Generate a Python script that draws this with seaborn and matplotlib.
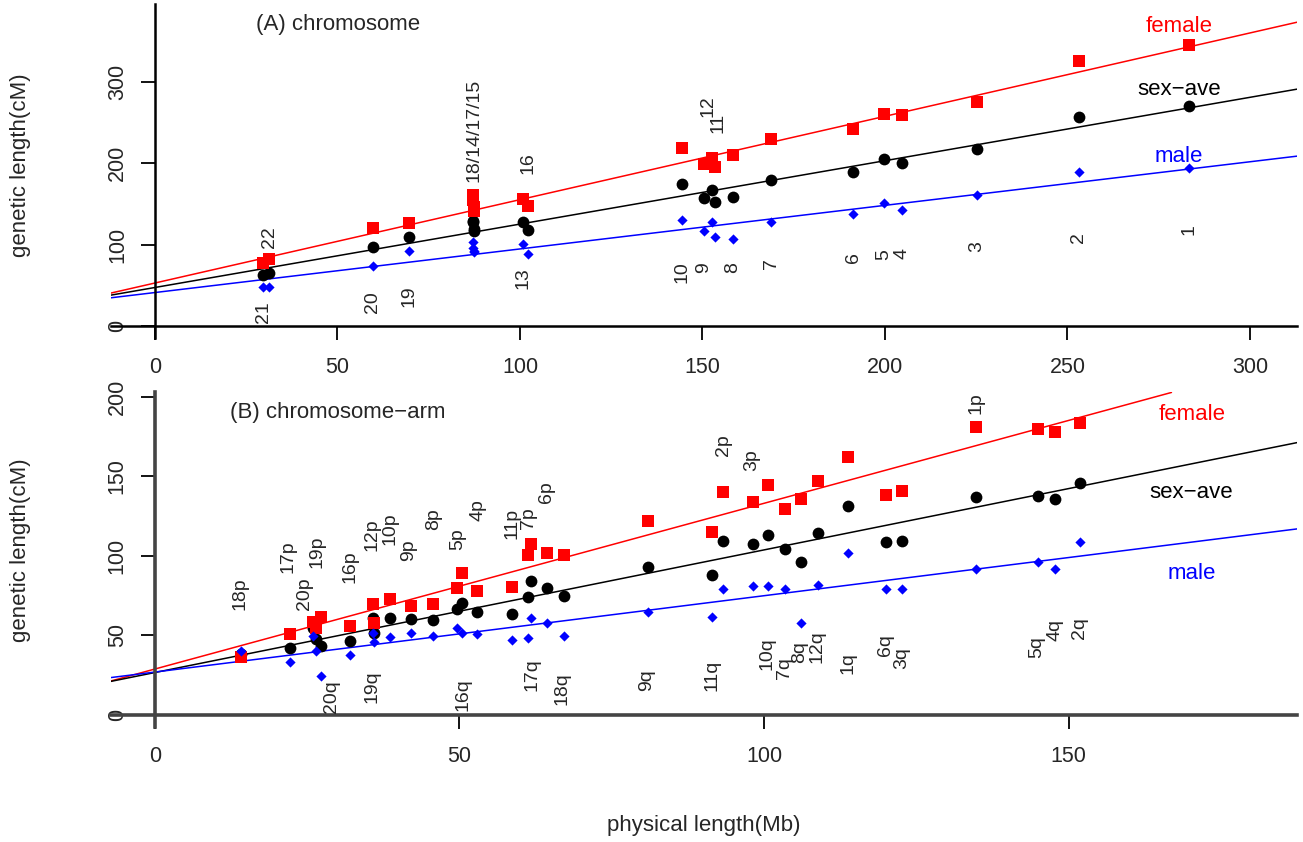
import numpy as np
import pandas as pd
import matplotlib
matplotlib.use("Agg")
import matplotlib.pyplot as plt
import seaborn as sns

# ---------------- Panel A: chromosomes ----------------
chrom_names = ["1", "2", "3", "4", "5", "6", "7", "8", "9", "10", "11", "12",
               "13", "14", "15", "16", "17", "18", "19", "20", "21", "22"]
chrom_mb = [283.4, 253.1, 225.1, 204.7, 199.8, 191.3, 168.9, 158.4, 150.4, 144.3, 153.3, 152.7,
            100.7, 87.1, 87.0, 102.3, 87.3, 87.4, 69.7, 59.6, 29.6, 31.2]
chrom_female = [344.4, 324.8, 274.5, 258.5, 260.0, 241.7, 229.0, 209.8, 198.4, 218.0, 195.5, 206.5,
                155.4, 154.6, 160.7, 147.2, 146.0, 141.0, 126.8, 120.6, 77.0, 82.0]
chrom_sexave = [269.6, 256.8, 217.2, 200.4, 204.9, 189.0, 178.7, 157.9, 157.5, 174.2, 151.8, 166.9,
                128.0, 128.6, 128.0, 117.8, 118.6, 116.3, 108.8, 97.3, 62.6, 65.0]
chrom_male = [194.2, 189.0, 160.4, 143.0, 150.5, 137.0, 128.0, 106.7, 117.0, 130.0, 108.8, 128.0,
              100.6, 102.7, 95.3, 88.3, 91.2, 91.5, 92.4, 74.0, 47.8, 48.0]

# text labels of panel A (label, x, y)
labelA_text = ["1", "2", "3", "4", "5", "6", "7", "8", "9", "10", "11", "12",
               "13", "16", "18/14/17/15", "19", "20", "21", "22"]
labelA_x = [283.4, 253.1, 225.1, 204.7, 199.8, 191.3, 168.9, 158.4, 150.4, 144.3, 154.3, 151.6,
            100.7, 102.3, 87.4, 69.7, 59.6, 29.6, 31.3]
labelA_y = [117.8, 108.3, 97.3, 89.2, 87.1, 84.3, 76.1, 71.4, 71.4, 66.6, 249.4, 270.0,
            59.3, 199.6, 240.5, 36.0, 29.8, 17.5, 109.6]

# fitted lines (intercept, slope) panel A
fitA_intercept = {"female": 52.8, "sexave": 47.3, "male": 41.1}
fitA_slope = {"female": 1.023, "sexave": 0.778, "male": 0.535}

# ---------------- Panel B: chromosome arms ----------------
arm_names = ["18p", "17p", "20p", "19p", "20q", "16p", "12p", "19q", "10p", "9p", "8p", "5p",
             "16q", "4p", "11p", "17q", "7p", "6p", "18q", "9q", "11q", "2p", "3p", "10q",
             "7q", "8q", "12q", "1q", "6q", "3q", "1p", "5q", "4q", "2q"]
arm_mb = [14.1, 22.2, 25.9, 26.4, 27.2, 32.0, 35.8, 36.0, 38.6, 42.1, 45.7, 49.6,
          50.5, 52.9, 58.7, 61.3, 61.7, 64.3, 67.1, 81.0, 91.5, 93.3, 98.2, 100.7,
          103.4, 106.1, 108.8, 113.8, 120.1, 122.7, 134.8, 144.9, 147.8, 151.8]
arm_female = [36.7, 50.7, 58.7, 54.5, 61.4, 56.0, 69.6, 57.7, 72.8, 68.5, 69.6, 79.6,
              89.1, 78.2, 80.3, 100.6, 107.5, 101.7, 100.6, 122.0, 114.9, 140.0, 133.8, 144.5,
              129.4, 135.8, 147.2, 162.0, 138.4, 140.9, 180.9, 179.7, 178.2, 183.5]
arm_sexave = [38.5, 42.3, 54.5, 47.6, 43.4, 46.5, 60.8, 51.4, 60.8, 60.2, 59.7, 66.4,
              70.6, 64.6, 63.5, 74.4, 84.5, 79.6, 74.8, 93.3, 88.0, 109.6, 107.5, 113.2,
              104.2, 96.4, 114.3, 131.6, 108.6, 109.6, 136.8, 137.9, 135.6, 146.1]
arm_male = [40.4, 33.5, 49.7, 40.4, 24.7, 37.7, 51.4, 45.7, 48.9, 51.4, 49.7, 54.5,
            51.4, 50.8, 47.2, 48.7, 61.2, 57.7, 49.7, 65.0, 61.4, 79.2, 81.3, 81.3,
            79.0, 57.7, 81.8, 101.7, 79.2, 79.0, 92.0, 96.4, 92.0, 108.8]

# text label positions of panel B (same order as arm_names)
labelB_x = [14.0, 21.9, 24.6, 26.6, 29.0, 32.0, 35.6, 35.6, 38.6, 41.6, 45.7, 49.8,
            50.6, 53.1, 58.6, 61.9, 61.3, 64.3, 66.8, 80.7, 91.4, 93.3, 98.0, 100.5,
            103.3, 105.9, 108.7, 113.8, 119.9, 122.6, 134.8, 144.8, 147.8, 151.8]
labelB_y = [76.5, 99.6, 76.5, 102.7, 11.5, 93.3, 113.2, 17.8, 117.4, 103.8, 123.1, 110.5,
            12.6, 128.9, 120.6, 25.2, 123.7, 140.4, 16.8, 22.0, 25.2, 169.8, 160.0, 38.8,
            29.4, 39.8, 43.0, 32.9, 44.0, 35.7, 196.0, 43.0, 53.5, 54.5]

fitB_intercept = {"female": 28.9, "sexave": 26.7, "male": 27.0}
fitB_slope = {"female": 1.042, "sexave": 0.771, "male": 0.480}

# ---------------- styling ----------------
sns.set_style("white")
plt.rcParams["font.family"] = ["Liberation Sans", "DejaVu Sans"]

colors = {"female": "#FF0000", "sexave": "#000000", "male": "#0000FF"}
markers = {"female": "s", "sexave": "o", "male": "D"}
msize = {"female": 64, "sexave": 72, "male": 27}

fig = plt.figure(figsize=(13.03, 8.42), dpi=100)
axA = fig.add_axes([0.0852, 0.5981, 0.9102, 0.3971])
axB = fig.add_axes([0.0852, 0.1361, 0.9102, 0.3978])


def draw_panel(ax, x, f, s, m, fit_b, fit_m, xlim, ylim, xticks, yticks, spine_lw, spine_col):
    df = pd.DataFrame({"x": x, "female": f, "sexave": s, "male": m})
    for key in ["female", "sexave", "male"]:
        ax.axline((0, fit_b[key]), slope=fit_m[key], color=colors[key], lw=1.1, zorder=2)
    for z, key in [(3, "sexave"), (4, "female"), (5, "male")]:
        sns.scatterplot(data=df, x="x", y=key, marker=markers[key], color=colors[key],
                        s=msize[key], linewidth=0, ax=ax, zorder=z)
    ax.set_xlim(*xlim)
    ax.set_ylim(*ylim)
    ax.set_xticks(xticks)
    ax.set_yticks(yticks)
    ax.set_xlabel("")
    ax.set_ylabel("")
    for sp in ["top", "right"]:
        ax.spines[sp].set_visible(False)
    for sp in ["left", "bottom"]:
        ax.spines[sp].set_position(("data", 0))
        ax.spines[sp].set_linewidth(spine_lw)
        ax.spines[sp].set_color(spine_col)
    ax.tick_params(axis="both", which="major", direction="out", length=10, width=1.3,
                   labelsize=15.5, color="black", left=True, bottom=True)
    ax.tick_params(axis="x", pad=12.5)
    ax.tick_params(axis="y", pad=9.5)
    for lbl in ax.get_yticklabels():
        lbl.set_rotation(90)
        lbl.set_va("center")
    ax.patch.set_alpha(0)


draw_panel(axA, chrom_mb, chrom_female, chrom_sexave, chrom_male, fitA_intercept, fitA_slope,
           (-12.05, 312.9), (-15.2, 395.2), [0, 50, 100, 150, 200, 250, 300], [0, 100, 200, 300],
           1.8, "black")
draw_panel(axB, arm_mb, arm_female, arm_sexave, arm_male, fitB_intercept, fitB_slope,
           (-7.2, 187.5), (-7.8, 202.8), [0, 50, 100, 150], [0, 50, 100, 150, 200],
           2.6, "#444444")

for t, x, y in zip(labelA_text, labelA_x, labelA_y):
    axA.text(x, y, t, rotation=90, ha="center", va="center", fontsize=14)
for t, x, y in zip(arm_names, labelB_x, labelB_y):
    axB.text(x, y, t, rotation=90, ha="center", va="center", fontsize=14)

axA.text(50.1, 370.6, "(A) chromosome", ha="center", va="center", fontsize=16)
axA.text(280.6, 368.0, "female", color=colors["female"], ha="center", va="center", fontsize=16)
axA.text(280.6, 290.4, "sex\u2212ave", color=colors["sexave"], ha="center", va="center", fontsize=16)
axA.text(280.6, 207.7, "male", color=colors["male"], ha="center", va="center", fontsize=16)

axB.text(30.0, 190.1, "(B) chromosome\u2212arm", ha="center", va="center", fontsize=16)
axB.text(170.2, 188.7, "female", color=colors["female"], ha="center", va="center", fontsize=16)
axB.text(170.2, 140.0, "sex\u2212ave", color=colors["sexave"], ha="center", va="center", fontsize=16)
axB.text(170.2, 88.7, "male", color=colors["male"], ha="center", va="center", fontsize=16)

fig.text(21 / 1303, 1 - 165 / 842, "genetic length(cM)", rotation=90, ha="center", va="center", fontsize=16)
fig.text(21 / 1303, 1 - 550 / 842, "genetic length(cM)", rotation=90, ha="center", va="center", fontsize=16)
fig.text(704 / 1303, 1 - 825 / 842, "physical length(Mb)", ha="center", va="center", fontsize=16)

fig.savefig("out.png", dpi=100)
